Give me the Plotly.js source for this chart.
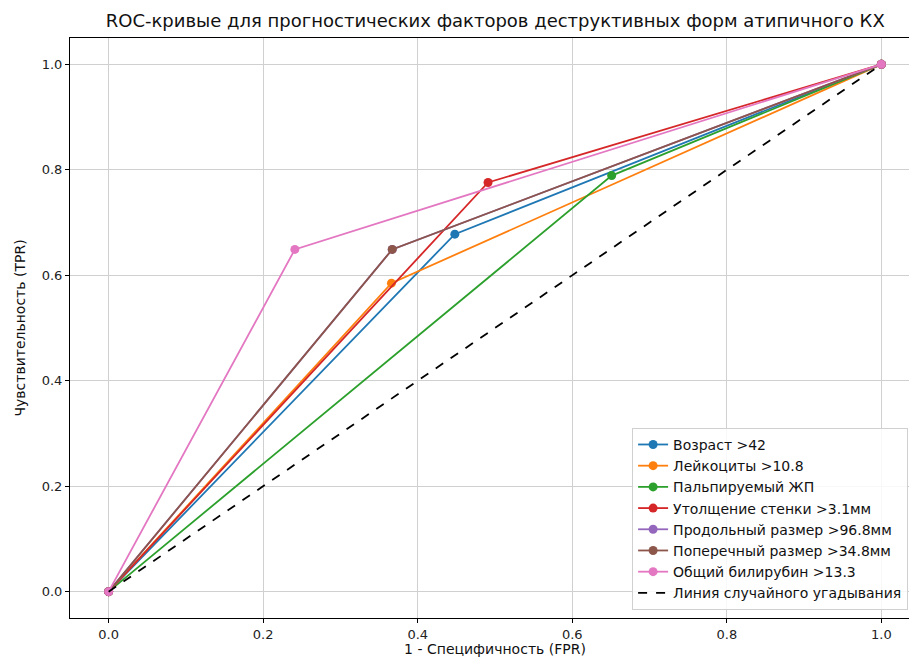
<!DOCTYPE html>
<html>
<head>
<meta charset="utf-8">
<script src="https://cdn.plot.ly/plotly-3.0.1.min.js"></script>
<style>
html,body{margin:0;padding:0;overflow:hidden;background:#fff;}
#chart{width:930px;height:657px;}
</style>
</head>
<body>
<div id="chart"></div>
<script>
const seriesNames = ["Возраст >42","Лейкоциты >10.8","Пальпируемый ЖП","Утолщение стенки >3.1мм","Продольный размер >96.8мм","Поперечный размер >34.8мм","Общий билирубин >13.3"];
const seriesColors = ["#1f77b4","#ff7f0e","#2ca02c","#d62728","#9467bd","#8c564b","#e377c2"];
const fprValues = [
  [0, 0.448, 1],
  [0, 0.366, 1],
  [0, 0.651, 1],
  [0, 0.491, 1],
  [0, 0.367, 1],
  [0, 0.367, 1],
  [0, 0.241, 1]
];
const tprValues = [
  [0, 0.678, 1],
  [0, 0.585, 1],
  [0, 0.789, 1],
  [0, 0.776, 1],
  [0, 0.649, 1],
  [0, 0.649, 1],
  [0, 0.649, 1]
];
const randomName = "Линия случайного угадывания";
const randomX = [0, 1];
const randomY = [0, 1];
const tickVals = [0, 0.2, 0.4, 0.6, 0.8, 1.0];
const tickText = ["0.0","0.2","0.4","0.6","0.8","1.0"];

const traces = seriesNames.map((n, i) => ({
  type: "scatter", mode: "lines+markers", name: n,
  x: fprValues[i], y: tprValues[i],
  line: {color: seriesColors[i], width: 1.8},
  marker: {color: seriesColors[i], size: 9}
}));
traces.push({
  type: "scatter", mode: "lines", name: randomName,
  x: randomX, y: randomY,
  line: {color: "#000000", width: 1.8, dash: "dash"}
});

const font = "DejaVu Sans, sans-serif";
const axisCommon = {
  showline: true, mirror: true, linecolor: "#000", linewidth: 1,
  ticks: "outside", ticklen: 4, tickcolor: "#000", tickwidth: 1,
  showgrid: true, gridcolor: "#d0d0d0", gridwidth: 1,
  zeroline: false, tickvals: tickVals, ticktext: tickText,
  tickfont: {family: font, size: 13, color: "#222"}
};
const layout = {
  width: 930, height: 657,
  margin: {l: 70, r: 10, t: 38, b: 39},
  paper_bgcolor: "#fff", plot_bgcolor: "#fff",
  showlegend: true,
  title: {text: "ROC-кривые для прогностических факторов деструктивных форм атипичного КХ",
          font: {family: font, size: 18, color: "#111"}, x: 0.5325, xanchor: "center", y: 0.968, yanchor: "middle"},
  xaxis: Object.assign({}, axisCommon, {range: [-0.05, 1.05],
    title: {text: "1 - Специфичность (FPR)", font: {family: font, size: 14, color: "#111"}, standoff: 6}}),
  yaxis: Object.assign({}, axisCommon, {range: [-0.05, 1.05],
    title: {text: "Чувствительность (TPR)", font: {family: font, size: 14, color: "#111"}, standoff: 12}}),
  legend: {x: 0.986, xanchor: "right", y: 0.014, yanchor: "bottom",
    bgcolor: "rgba(255,255,255,0.85)", bordercolor: "#d0d0d0", borderwidth: 1,
    font: {family: font, size: 14, color: "#111"}, tracegroupgap: 0}
};
Plotly.newPlot("chart", traces, layout, {displayModeBar: false, staticPlot: true});
</script>
</body>
</html>
